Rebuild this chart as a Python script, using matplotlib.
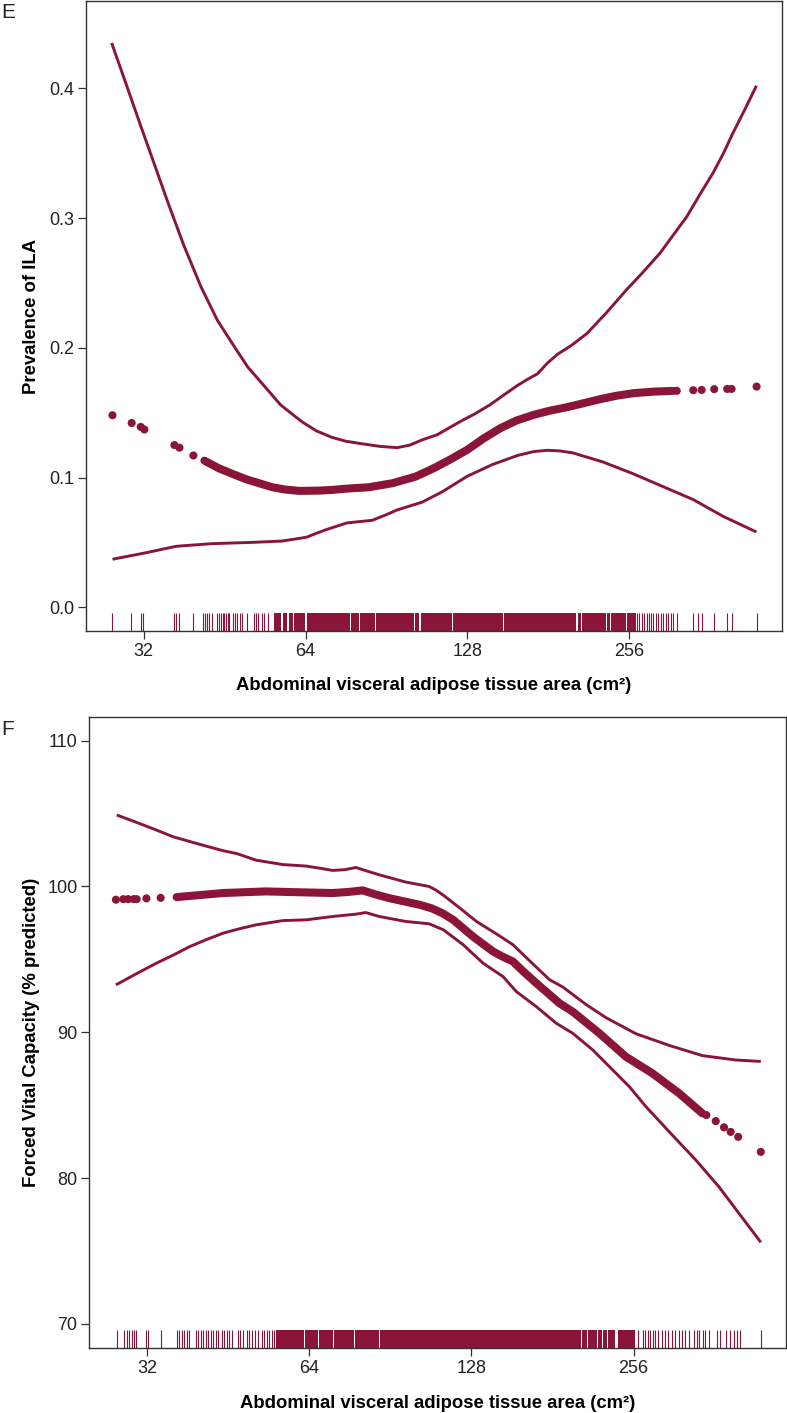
import matplotlib
matplotlib.use("Agg")
import matplotlib.pyplot as plt
from matplotlib.ticker import FixedLocator, NullLocator

plt.rcParams['font.family'] = ['Liberation Sans', 'DejaVu Sans']

COL = '#8a1538'

# ---------------- data: panel E (prevalence of ILA) ----------------
e_upper_x = [27.9, 29.7, 31.6, 33.6, 35.5, 38.0, 40.9, 43.9, 47.5, 50.0, 53.0, 57.5, 63.0, 67.0,
             71.6, 76.0, 81.5, 88.0, 94.7, 100.0, 105.4, 112.5, 118.0, 125.2, 132.0, 140.9,
             150.0, 158.6, 166.0, 172.8, 180.0, 188.2, 200.0, 213.4, 232.0, 253.2, 271.0,
             291.9, 309.0, 327.2, 346.0, 366.5, 383.0, 399.3, 420.0, 441.0]
e_upper_y = [0.435, 0.403, 0.371, 0.340, 0.312, 0.279, 0.247, 0.221, 0.199, 0.185, 0.173, 0.156,
             0.143, 0.136, 0.131, 0.128, 0.126, 0.124, 0.123, 0.125, 0.129, 0.133, 0.138, 0.144,
             0.149, 0.156, 0.164, 0.171, 0.176, 0.180, 0.188, 0.195, 0.202, 0.211, 0.227, 0.245,
             0.258, 0.273, 0.287, 0.301, 0.318, 0.335, 0.350, 0.366, 0.384, 0.402]
e_lower_x = [28.0, 32.3, 36.8, 42.8, 50.8, 57.8, 61.0, 64.3, 67.0, 70.1, 76.4, 80.5, 85.1, 90.0,
             94.7, 105.4, 114.9, 127.9, 142.4, 158.6, 170.0, 180.4, 190.0, 200.9, 228.5, 259.8,
             295.6, 336.4, 382.7, 441.0]
e_lower_y = [0.037, 0.042, 0.047, 0.049, 0.050, 0.051, 0.0525, 0.054, 0.057, 0.060, 0.065, 0.066,
             0.067, 0.071, 0.075, 0.081, 0.089, 0.101, 0.110, 0.117, 0.120, 0.121, 0.1205, 0.119,
             0.112, 0.103, 0.093, 0.083, 0.070, 0.058]
e_fit_x = [41.5, 44.2, 47.0, 49.6, 51.7, 55.5, 58.5, 62.2, 67.8, 72.0, 76.1, 83.9, 92.8, 102.5,
           110.8, 119.0, 127.8, 137.0, 147.3, 158.0, 169.9, 182.0, 195.9, 210.0, 225.9, 242.0,
           260.4, 284.0, 308.9]
e_fit_y = [0.113, 0.107, 0.1025, 0.0987, 0.0964, 0.0925, 0.0908, 0.0897, 0.0899, 0.0905, 0.0914,
           0.0925, 0.0956, 0.1007, 0.1072, 0.1140, 0.1213, 0.1300, 0.1380, 0.1440, 0.1483, 0.1515,
           0.1542, 0.1572, 0.1604, 0.1630, 0.1650, 0.1662, 0.1668]
e_dots_x = [28.0, 30.4, 31.6, 32.1, 36.5, 37.3, 39.6,
            313.5, 336.5, 348.8, 368.1, 389.1, 396.5, 441.3]
e_dots_y = [0.148, 0.142, 0.139, 0.137, 0.125, 0.123, 0.117,
            0.1668, 0.1673, 0.1675, 0.1681, 0.1683, 0.1683, 0.1701]
e_rug_single = [27.95, 30.27, 31.63, 31.86, 36.47, 36.74, 37.26, 39.56, 41.28, 41.58, 41.89, 42.35,
                42.85, 43.77, 44.09, 44.52, 44.85, 45.16, 45.49, 45.82, 46.13, 46.81, 47.27, 47.82,
                48.29, 48.85, 49.70, 51.33, 51.71, 52.31, 53.21, 53.58, 54.59,
                264.9, 267.2, 269.9, 272.9, 275.8, 278.5, 280.9, 283.6, 286.9, 289.8, 292.8, 296.0,
                299.5, 302.4, 305.5, 308.2, 313.5, 336.5, 343.8, 348.8, 368.1, 389.1, 396.5, 441.3]
e_rug_lo = [55.9, 58.0, 59.5, 61.0, 64.5, 70.9, 77.6, 80.65, 84.5, 86.35, 89.7, 102.45,
            104.7, 120.5, 149.9, 205.2, 209.1, 232.7, 236.7, 253.5]
e_rug_hi = [57.6, 59.1, 60.6, 63.8, 70.6, 77.3, 80.3, 84.2, 86.0, 89.4, 102.0, 104.2,
            120.0, 149.2, 203.9, 208.3, 231.7, 235.7, 252.4, 262.9]

# ---------------- data: panel F (FVC % predicted) ----------------
f_upper_x = [28.1, 30.3, 32.6, 35.8, 40.4, 44.3, 47.0, 51.0, 57.2, 63.1, 67.0, 70.7, 74.5, 78.1,
             82.0, 86.3, 96.7, 106.8, 110.0, 113.5, 120.1, 130.8, 144.5, 152.9, 164.2, 178.8,
             189.2, 209.0, 227.6, 258.6, 298.1, 343.5, 396.1, 441.0]
f_upper_y = [104.9, 104.45, 104.0, 103.4, 102.85, 102.45, 102.25, 101.8, 101.5, 101.4, 101.25,
             101.1, 101.15, 101.3, 101.05, 100.8, 100.3, 100.0, 99.75, 99.4, 98.7, 97.6, 96.6,
             96.0, 94.9, 93.6, 93.1, 91.9, 91.0, 89.9, 89.1, 88.4, 88.1, 88.0]
f_lower_x = [28.0, 30.5, 33.3, 35.8, 38.4, 41.2, 44.3, 47.5, 51.0, 57.2, 63.1, 70.7, 78.1, 81.5,
             86.3, 96.7, 106.8, 113.5, 123.6, 134.5, 146.5, 155.1, 168.9, 183.9, 197.4, 215.0,
             234.1, 251.4, 269.9, 298.1, 334.0, 368.8, 401.7, 441.0]
f_lower_y = [93.25, 94.0, 94.74, 95.3, 95.88, 96.35, 96.80, 97.1, 97.37, 97.66, 97.71, 97.94,
             98.10, 98.21, 97.94, 97.60, 97.44, 97.03, 96.0, 94.74, 93.82, 92.79, 91.76, 90.62,
             89.93, 88.79, 87.42, 86.27, 84.90, 83.18, 81.24, 79.40, 77.58, 75.6]
f_fit_x = [36.3, 44.3, 53.2, 63.1, 70.7, 75.5, 80.4, 85.0, 90.0, 102.7, 108.0, 113.0, 118.4,
           129.0, 140.4, 146.0, 152.9, 160.0, 168.9, 186.5, 197.4, 221.2, 247.8, 277.6, 311.1, 343.5]
f_fit_y = [99.27, 99.55, 99.66, 99.59, 99.55, 99.62, 99.73, 99.45, 99.20, 98.74, 98.50, 98.17,
           97.71, 96.55, 95.54, 95.20, 94.85, 94.15, 93.37, 91.99, 91.41, 89.93, 88.32, 87.18,
           85.81, 84.44]
f_dots_x = [28.0, 28.9, 29.5, 30.2, 30.6, 31.9, 33.9,
            349.4, 363.7, 376.8, 387.7, 400.4, 441.0]
f_dots_y = [99.09, 99.13, 99.13, 99.13, 99.13, 99.18, 99.22,
            84.32, 83.91, 83.48, 83.17, 82.83, 81.80]
f_rug_single = [28.08, 29.0, 29.31, 29.63, 29.95, 30.27, 30.46, 31.80, 32.07, 33.90, 36.31, 36.70,
                37.09, 37.49, 37.90, 38.31, 39.39, 39.81, 40.24, 40.67, 41.11, 41.55, 42.0, 42.45,
                42.91, 43.37, 44.03, 44.5, 44.98, 45.46, 45.95, 47.15, 47.66, 48.17, 49.0, 49.53,
                50.06, 50.82, 51.47, 52.25, 52.82, 53.38, 53.96, 54.54, 55.13,
                260.4, 266.0, 268.9, 271.8, 274.7, 277.6, 280.6, 283.7, 288.6, 292.9, 296.1, 301.2,
                305.7, 310.3, 314.4, 319.1, 323.9, 330.9, 335.2, 338.8, 343.9, 347.6, 352.9, 365.2,
                370.7, 380.3, 386.9, 392.7, 397.8, 403.8, 440.9]
f_rug_lo = [55.5, 62.9, 66.6, 71.1, 77.8, 86.6, 205.0, 210.4, 219.6, 224.3, 229.2, 239.0]
f_rug_hi = [62.5, 66.3, 70.8, 77.5, 86.3, 204.6, 210.0, 219.2, 223.9, 228.8, 236.4, 257.6]

x_ticks = [32, 64, 128, 256]
xlabel = 'Abdominal visceral adipose tissue area (cm²)'


def draw_panel(ax, up_x, up_y, lo_x, lo_y, fit_x, fit_y, dot_x, dot_y,
               rug_single, rug_lo, rug_hi, ylim, yticks, ylabels):
    ax.plot(up_x, up_y, color=COL, lw=2.1, solid_capstyle='butt', solid_joinstyle='round')
    ax.plot(lo_x, lo_y, color=COL, lw=2.1, solid_capstyle='butt', solid_joinstyle='round')
    ax.plot(fit_x, fit_y, color=COL, lw=5.8, solid_capstyle='round', solid_joinstyle='round')
    ax.scatter(dot_x, dot_y, s=34, color=COL, edgecolors='none', zorder=3)

    # rug
    tr = ax.get_xaxis_transform()
    ax.vlines(rug_single, 0, 0.028, transform=tr, color=COL, lw=0.8)
    for lo, hi in zip(rug_lo, rug_hi):
        ax.axvspan(lo, hi, ymin=0, ymax=0.028, color=COL, lw=0)

    ax.set_xscale('log', base=2)
    ax.set_xlim(25.0, 492)
    ax.xaxis.set_major_locator(FixedLocator(x_ticks))
    ax.xaxis.set_minor_locator(NullLocator())
    ax.set_xticklabels([str(t) for t in x_ticks])
    ax.set_ylim(*ylim)
    ax.set_yticks(yticks)
    ax.set_yticklabels(ylabels)

    for sp in ax.spines.values():
        sp.set_color('#333333')
        sp.set_linewidth(1.0)
    ax.tick_params(direction='out', length=5.5, width=0.9, color='#333333',
                   labelsize=13, pad=3, labelcolor='#222222')


fig = plt.figure(figsize=(7.87, 14.13), dpi=100)

axE = fig.add_axes([86 / 787, 1 - 631 / 1413, 696 / 787, 630 / 1413])
draw_panel(axE, e_upper_x, e_upper_y, e_lower_x, e_lower_y, e_fit_x, e_fit_y,
           e_dots_x, e_dots_y, e_rug_single, e_rug_lo, e_rug_hi,
           (-0.0183, 0.4673), [0.0, 0.1, 0.2, 0.3, 0.4],
           ['0.0', '0.1', '0.2', '0.3', '0.4'])
axE.set_ylabel('Prevalence of ILA', fontsize=13.3, fontweight='bold', va='center')
axE.yaxis.set_label_coords(-0.079, 0.5)
axE.set_xlabel(xlabel, fontsize=13.3, fontweight='bold', va='center')
axE.xaxis.set_label_coords(0.5, -0.087)

axF = fig.add_axes([89.4 / 787, 1 - 1347.7 / 1413, 697 / 787, 630.4 / 1413])
draw_panel(axF, f_upper_x, f_upper_y, f_lower_x, f_lower_y, f_fit_x, f_fit_y,
           f_dots_x, f_dots_y, f_rug_single, f_rug_lo, f_rug_hi,
           (68.37, 111.6), [70, 80, 90, 100, 110],
           ['70', '80', '90', '100', '110'])
axF.set_ylabel('Forced Vital Capacity (% predicted)', fontsize=13.3, fontweight='bold', va='center')
axF.yaxis.set_label_coords(-0.083, 0.5)
axF.set_xlabel(xlabel, fontsize=13.3, fontweight='bold', va='center')
axF.xaxis.set_label_coords(0.5, -0.088)

# panel letters
fig.text(1 / 787, 1 - 13 / 1413, 'E', fontsize=15, va='center', ha='left', color='#222222')
fig.text(1 / 787, 1 - 730 / 1413, 'F', fontsize=15, va='center', ha='left', color='#222222')

fig.savefig('out.png', dpi=100)
